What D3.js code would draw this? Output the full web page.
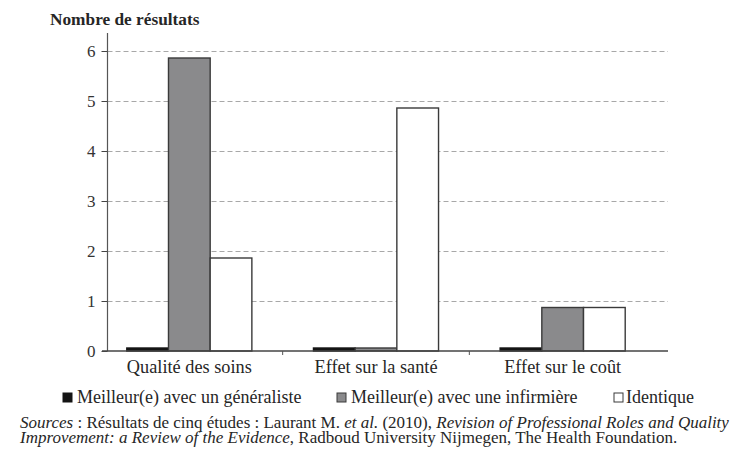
<!DOCTYPE html>
<html lang="fr">
<head>
<meta charset="utf-8">
<script src="https://cdn.jsdelivr.net/npm/d3@7"></script>
<style>
  html, body { margin: 0; padding: 0; background: #fff; }
  svg { display: block; }
</style>
</head>
<body>
<svg id="chart" width="731" height="453"></svg>
<script>
// Résultats comparés : généraliste, infirmière, identique
const categories = ["Qualité des soins", "Effet sur la santé", "Effet sur le coût"];
const seriesNames = ["Meilleur(e) avec un généraliste", "Meilleur(e) avec une infirmière", "Identique"];
const generaliste = [0.06, 0.06, 0.06];
const infirmiere = [5.86, 0.06, 0.87];
const identique = [1.86, 4.86, 0.87];
const yTicks = [0, 1, 2, 3, 4, 5, 6];
const yTitle = "Nombre de résultats";

const seriesValues = [generaliste, infirmiere, identique];
const fills = ["#141414", "#8a8a8c", "#ffffff"];
const strokes = ["#141414", "#3a3a3a", "#3a3a3a"];
const FONT = '"Liberation Serif"';
const INK = "#262626";

const svg = d3.select("#chart");

const x = d3.scaleBand().domain(categories).range([96, 656])
  .paddingInner(0.33).paddingOuter(0.165);
const xs = d3.scaleBand().domain(seriesNames).range([0, x.bandwidth()]);
const y = d3.scaleLinear().domain([0, 6]).range([351, 51]);

const axisLeft = 107.5, axisRight = 668;

// horizontal dashed grid
svg.append("g").selectAll("line")
  .data(yTicks.filter(d => d > 0))
  .join("line")
  .attr("x1", axisLeft).attr("x2", axisRight)
  .attr("y1", d => Math.round(y(d)) + 0.5).attr("y2", d => Math.round(y(d)) + 0.5)
  .attr("stroke", "#a8a8a8").attr("stroke-width", 1)
  .attr("stroke-dasharray", "5,3");

// y axis
const yAxis = d3.axisLeft(y).tickValues(yTicks).tickSize(6).tickPadding(6).tickFormat(d3.format("d"));
const gy = svg.append("g").attr("transform", `translate(${axisLeft},0)`).call(yAxis);
gy.attr("font-family", null).attr("font-size", null);
gy.select(".domain").remove();
gy.selectAll("line").attr("stroke", "#444");
gy.selectAll("text").style("font-family", FONT).attr("font-size", 17).attr("fill", "#333");
svg.append("line").attr("x1", axisLeft).attr("x2", axisLeft)
  .attr("y1", 33).attr("y2", y(0)).attr("stroke", "#555").attr("stroke-width", 1.2);

// bars
const groups = svg.append("g").selectAll("g")
  .data(categories).join("g")
  .attr("transform", d => `translate(${x(d)},0)`);

groups.selectAll("rect")
  .data((c, i) => seriesNames.map((s, k) => ({ s, k, v: seriesValues[k][i] })))
  .join("rect")
  .attr("x", d => xs(d.s))
  .attr("width", xs.bandwidth())
  .attr("y", d => y(d.v))
  .attr("height", d => y(0) - y(d.v))
  .attr("fill", d => fills[d.k])
  .attr("stroke", d => strokes[d.k])
  .attr("stroke-width", 1.4);

// x axis baseline and separating ticks
svg.append("line").attr("x1", 102).attr("x2", axisRight)
  .attr("y1", y(0)).attr("y2", y(0)).attr("stroke", "#444").attr("stroke-width", 1.4);
svg.append("g").selectAll("line")
  .data(categories.slice(1))
  .join("line")
  .attr("x1", d => x(d) - x.step() * x.paddingInner() / 2)
  .attr("x2", d => x(d) - x.step() * x.paddingInner() / 2)
  .attr("y1", y(0)).attr("y2", y(0) + 4)
  .attr("stroke", "#555");

// category labels
svg.append("g").selectAll("text")
  .data(categories).join("text")
  .attr("x", d => x(d) + x.bandwidth() / 2)
  .attr("y", 373)
  .attr("text-anchor", "middle")
  .style("font-family", FONT).attr("font-size", 18.3).attr("fill", INK)
  .text(d => d);

// axis title
svg.append("text").attr("x", 50).attr("y", 25)
  .style("font-family", FONT).attr("font-size", 17.3).attr("font-weight", "bold")
  .attr("fill", INK).text(yTitle);

// legend
const legendX = [63, 337, 614];
const items = svg.append("g").attr("transform", "translate(0,393)")
  .selectAll("g").data(seriesNames).join("g")
  .attr("transform", (d, i) => `translate(${legendX[i]},0)`);
items.append("rect").attr("width", 9).attr("height", 9)
  .attr("fill", (d, i) => fills[i]).attr("stroke", (d, i) => strokes[i]).attr("stroke-width", 1);
items.append("text").attr("x", (d, i) => i === 2 ? 12 : 14).attr("y", 9.5)
  .style("font-family", FONT).attr("font-size", 18).attr("fill", INK).text(d => d);

// source note, with italic segments
const sourceLines = [
  [["Sources", true], [" : Résultats de cinq études : Laurant M. ", false], ["et al.", true],
   [" (2010), ", false], ["Revision of Professional Roles and Quality", true]],
  [["Improvement: a Review of the Evidence", true],
   [", Radboud University Nijmegen, The Health Foundation.", false]]
];
const sourceY = [428, 443];
sourceLines.forEach((parts, i) => {
  const t = svg.append("text").attr("x", 20).attr("y", sourceY[i])
    .style("font-family", FONT).attr("font-size", 17).attr("fill", INK);
  parts.forEach(([txt, it]) => {
    t.append("tspan").style("font-style", it ? "italic" : "normal").text(txt);
  });
});
</script>
</body>
</html>
